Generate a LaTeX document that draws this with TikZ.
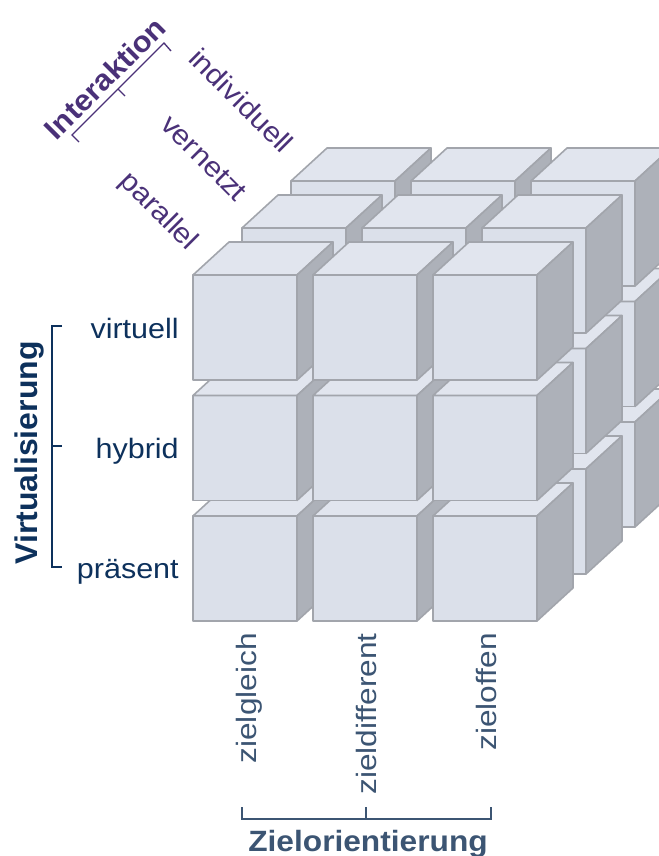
\documentclass[tikz,border=0pt]{standalone}
\usepackage{fontspec}
\setmainfont{Liberation Sans}
\usetikzlibrary{calc}

\definecolor{wfront}{HTML}{DBE0EA}
\definecolor{wtop}{HTML}{E1E5EE}
\definecolor{wside}{HTML}{ADB1B9}
\definecolor{wrand}{HTML}{A2A5AC}
\definecolor{navy}{HTML}{0D315C}
\definecolor{schiefer}{HTML}{3C5573}
\definecolor{lila}{HTML}{4A3178}

\begin{document}
\begin{tikzpicture}[x=0.75pt, y=-0.75pt,
    wuerfel/.style={draw=wrand, line width=1.2pt, line join=round},
    klammer/.style={line width=1.4pt},
    stufe/.style={font=\fontsize{21}{25}\selectfont, inner sep=0pt, anchor=base east},
    virt/.style={stufe, text=navy, xscale=1.09},
    ziel/.style={stufe, text=schiefer, rotate=90, xscale=1.13},
    inter/.style={stufe, text=lila, rotate=-45, xscale=1.09},
    achse/.style={font=\fontsize{22}{26}\selectfont\bfseries, inner sep=0pt}
  ]
  \clip (0,0) rectangle (659,856);

  % Wuerfel: hinten nach vorne, unten nach oben, links nach rechts
  \foreach \k in {2,1,0}
    \foreach \j in {2,1,0}
      \foreach \i in {0,1,2} {
        \pgfmathsetmacro{\xa}{193+120*\i+49*\k}
        \pgfmathsetmacro{\ya}{275+120.5*\j-47*\k}
        \draw[wuerfel, fill=wfront] (\xa,\ya) rectangle ++(104,105);
        \draw[wuerfel, fill=wtop] (\xa,\ya) -- ++(36,-33) -- ++(104,0) -- ++(-36,33) -- cycle;
        \draw[wuerfel, fill=wside] (\xa+104,\ya) -- ++(36,-33) -- ++(0,105) -- ++(-36,33) -- cycle;
      }

  % Virtualisierung (links)
  \node[virt] (virtuell) at (179,338) {virtuell};
  \node[virt] (hybrid) at (179,458) {hybrid};
  \node[virt] (praesent) at (179,578) {präsent};
  \draw[klammer, navy] (62,326) -- (52,326) -- (52,567) -- (62,567);
  \draw[klammer, navy] (52,446) -- (62,446);
  \node[achse, font=\fontsize{23.5}{28}\selectfont\bfseries, text=navy, rotate=90, xscale=1.02] (virtualisierung) at (29,453) {Virtualisierung};

  % Zielorientierung (unten)
  \node[ziel] (zielgleich) at (256,633) {zielgleich};
  \node[ziel] (zieldifferent) at (376,633) {zieldifferent};
  \node[ziel] (zieloffen) at (496,633) {zieloffen};
  \draw[klammer, schiefer] (242,807) -- (242,819) -- (491,819) -- (491,807);
  \draw[klammer, schiefer] (366,819) -- (366,807);
  \node[achse, text=schiefer, anchor=base, xscale=1.08] (zielorientierung) at (368,851) {Zielorientierung};

  % Interaktion (oben, diagonal)
  \node[inter] (individuell) at (282,155) {individuell};
  \node[inter] (vernetzt) at (236,203) {vernetzt};
  \node[inter] (parallel) at (188,252) {parallel};
  \draw[lila, line width=1pt] (171,51) -- (164,43) -- (72,135) -- (79,142);
  \draw[lila, line width=1pt] (118,89) -- (125,96);
  \node[achse, text=lila, rotate=45, xscale=1.05] (interaktion) at (105,78) {Interaktion};

\end{tikzpicture}
\end{document}
